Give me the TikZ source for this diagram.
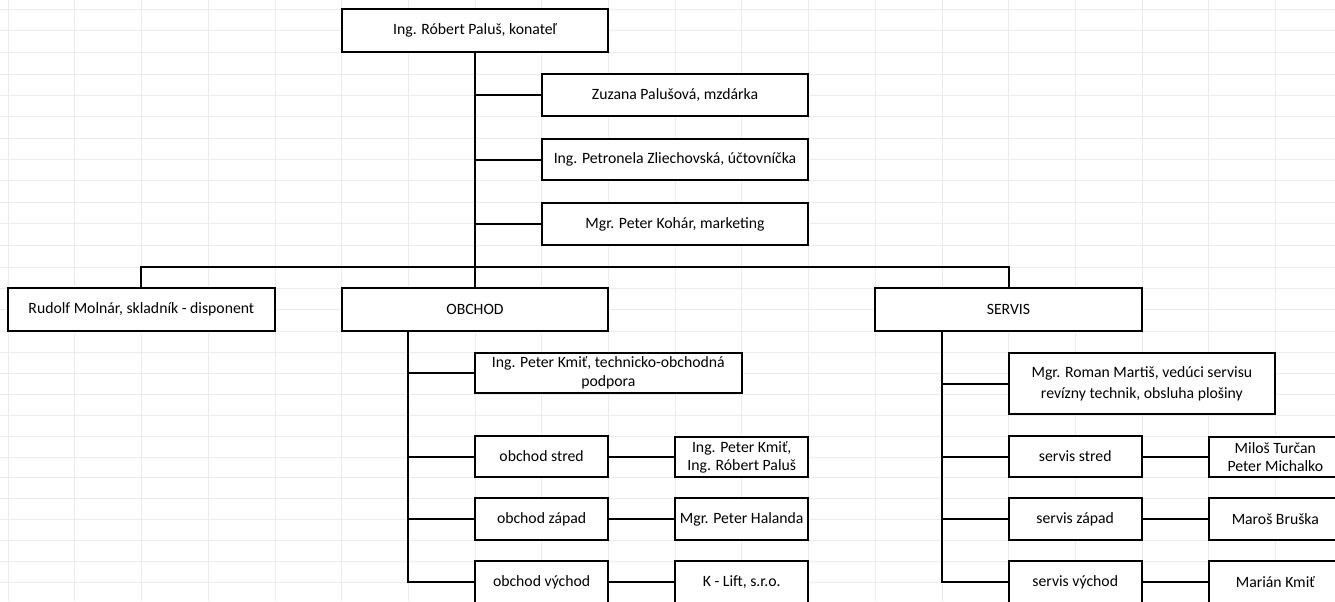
\documentclass[tikz,border=0pt]{standalone}
\usepackage{fontspec}
\setmainfont{Carlito}
\begin{document}
\begin{tikzpicture}[x=0.75pt,y=-0.75pt,
  box/.style={draw=black, line width=1.5pt, fill=white, inner sep=0pt, outer sep=0pt,
    align=center, text=black, font=\fontsize{11.8}{15.5}\selectfont},
  w4/.style={minimum width=200.1pt},
  w2/.style={minimum width=100.05pt},
  conn/.style={draw=black, line width=1.5pt},
  gridline/.style={draw=black!8, line width=0.4pt}]
\useasboundingbox (0,0) rectangle (1335,601);
\clip (0,0) rectangle (1335,601);
\fill[white] (0,0) rectangle (1335,601);
% faint spreadsheet grid
\foreach \k in {0,...,20} \draw[gridline] ({8+66.7*\k},0) -- ({8+66.7*\k},601);
\foreach \y in {9,30,52,74,95,116,138,159,180,202,223,245,267,288,309,331,352,373,394,415,436,457,477,498,519,540,561,582}
  \draw[gridline] (0,\y) -- (1335,\y);

% nodes
\node[box,w4,minimum height=32.25pt] (top) at (475,30.5) {Ing. Róbert Paluš, konateľ};
\node[box,w4,minimum height=31.5pt] (zuz) at (675,95) {Zuzana Palušová, mzdárka};
\node[box,w4,minimum height=30.75pt] (pet) at (675,159.5) {Ing. Petronela Zliechovská, účtovníčka};
\node[box,w4,minimum height=31.5pt] (koh) at (675,224) {Mgr. Peter Kohár, marketing};

\node[box,w4,minimum height=32.25pt] (rud) at (141.4,309.5) {Rudolf Molnár, skladník - disponent};
\node[box,w4,minimum height=32.25pt] (obc) at (475,309.5) {OBCHOD};
\node[box,w4,minimum height=32.25pt] (ser) at (1008.5,309.5) {SERVIS};

\node[box,w4,minimum height=30pt] (kmit) at (608.3,373) {Ing. Peter Kmiť, technicko-obchodná\\[-1pt]podpora};
\node[box,w2,minimum height=30.75pt] (os) at (541.6,456.5) {obchod stred};
\node[box,w2,minimum height=30pt] (osr) at (741.7,457) {Ing. Peter Kmiť,\\[-2pt]Ing. Róbert Paluš};
\node[box,w2,minimum height=31.5pt] (oz) at (541.6,519) {obchod západ};
\node[box,w2,minimum height=31.5pt] (ozr) at (741.7,519) {Mgr. Peter Halanda};
\node[box,w2,minimum height=31.5pt] (ov) at (541.6,582) {obchod východ};
\node[box,w2,minimum height=31.5pt] (ovr) at (741.7,582) {K - Lift, s.r.o.};

\node[box,w4,minimum height=45.75pt] (rom) at (1141.9,383.5) {Mgr. Roman Martiš, vedúci servisu\\revízny technik, obsluha plošiny};
\node[box,w2,minimum height=30.75pt] (ss) at (1075.2,456.5) {servis stred};
\node[box,w2,minimum height=30pt] (ssr) at (1275.3,457) {Miloš Turčan\\[-2pt]Peter Michalko};
\node[box,w2,minimum height=31.5pt] (sz) at (1075.2,519) {servis západ};
\node[box,w2,minimum height=31.5pt] (szr) at (1275.3,519) {Maroš Bruška};
\node[box,w2,minimum height=31.5pt] (sv) at (1075.2,582) {servis východ};
\node[box,w2,minimum height=31.5pt] (svr) at (1275.3,582) {Marián Kmiť};

% connectors
\coordinate (bar) at (475,267);
\coordinate (obcl) at (408,331);
\coordinate (serl) at (941.7,331);
\draw[conn] (top.south) -- (bar);
\draw[conn] (zuz.west) -- (zuz.west -| top.south);
\draw[conn] (pet.west) -- (pet.west -| top.south);
\draw[conn] (koh.west) -- (koh.west -| top.south);
\draw[conn] (rud.north) |- (bar) -| (ser.north);
\draw[conn] (obc.north) -- (bar);

\draw[conn] (obcl) |- (ov.west);
\draw[conn] (kmit.west) -- (kmit.west -| obcl);
\draw[conn] (os.west) -- (os.west -| obcl);
\draw[conn] (oz.west) -- (oz.west -| obcl);
\draw[conn] (os.east) -- (os.east -| osr.west);
\draw[conn] (oz.east) -- (oz.east -| ozr.west);
\draw[conn] (ov.east) -- (ov.east -| ovr.west);

\draw[conn] (serl) |- (sv.west);
\draw[conn] (rom.west) -- (rom.west -| serl);
\draw[conn] (ss.west) -- (ss.west -| serl);
\draw[conn] (sz.west) -- (sz.west -| serl);
\draw[conn] (ss.east) -- (ss.east -| ssr.west);
\draw[conn] (sz.east) -- (sz.east -| szr.west);
\draw[conn] (sv.east) -- (sv.east -| svr.west);
\end{tikzpicture}
\end{document}
